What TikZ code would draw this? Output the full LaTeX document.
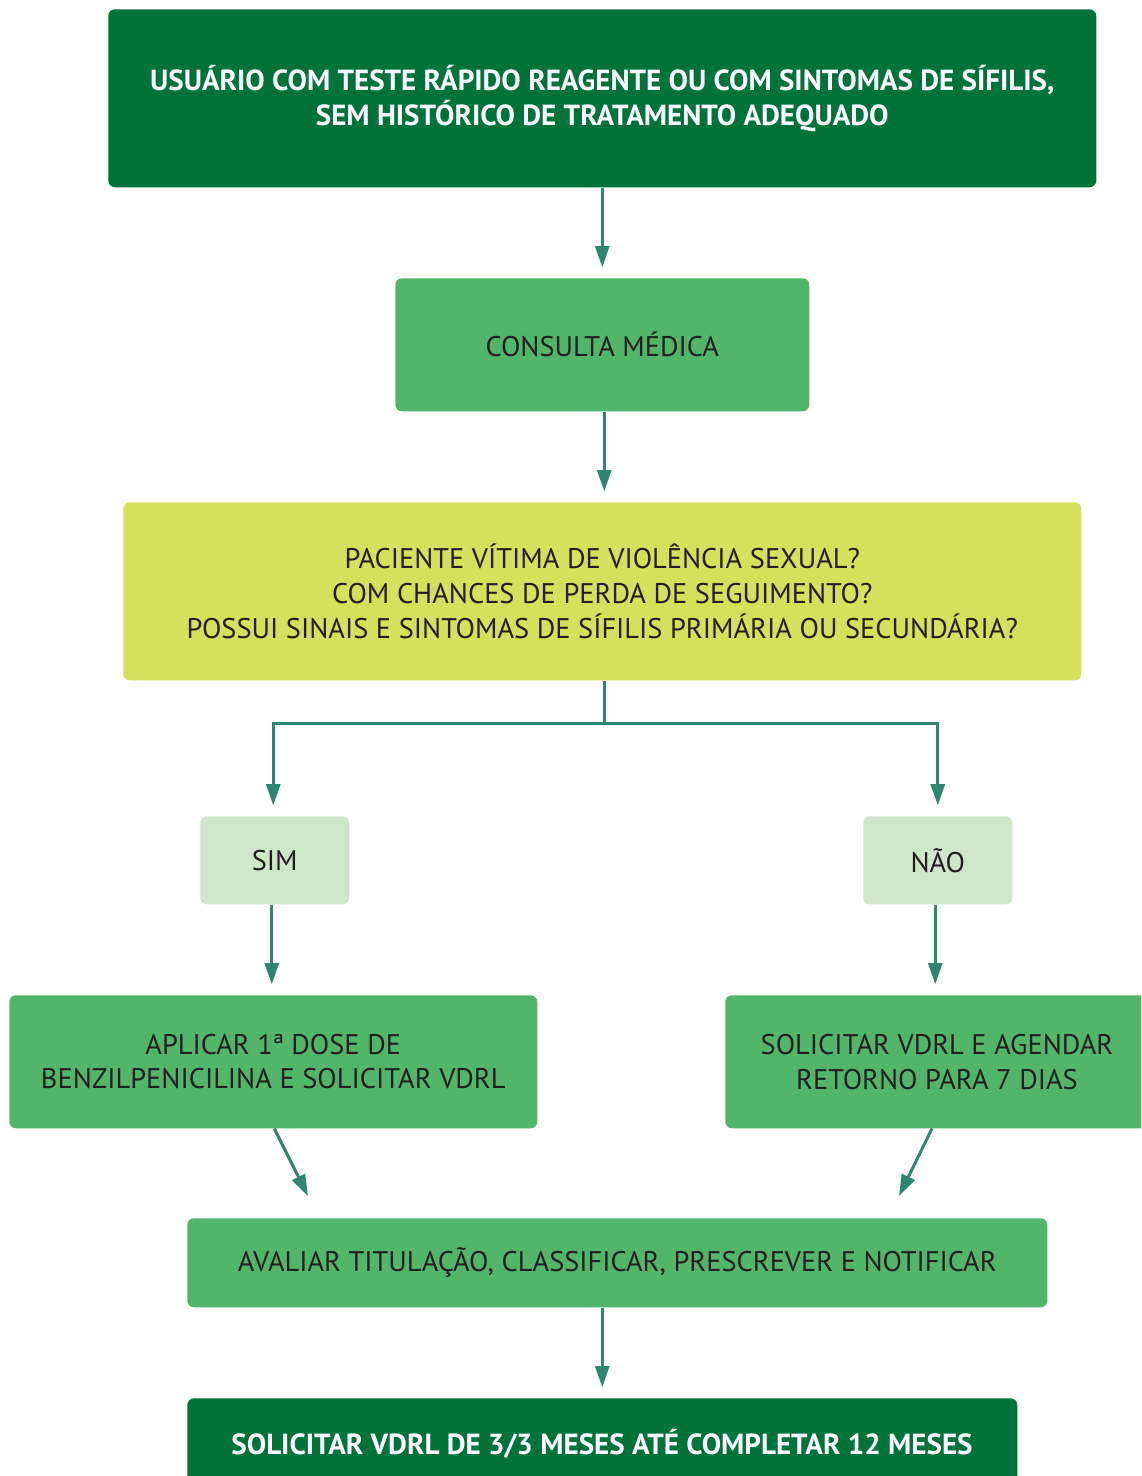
\documentclass[tikz,border=0pt]{standalone}
\usepackage{fontspec}
\setmainfont{PT Sans}
\usetikzlibrary{arrows.meta,calc}
\definecolor{darkgreen}{RGB}{0,115,56}
\definecolor{midgreen}{RGB}{82,182,106}
\definecolor{lightgreen}{RGB}{207,231,200}
\definecolor{lime}{RGB}{213,224,91}
\definecolor{arrowteal}{RGB}{46,133,112}
\definecolor{inktext}{RGB}{35,31,32}
\begin{document}
\begin{tikzpicture}[x=0.75pt,y=-0.75pt,
  box/.style={rounded corners=5pt,inner sep=0pt,align=center,anchor=north west},
  boldtxt/.style={text=white,font=\fontsize{21.8}{26.3}\selectfont\bfseries},
  plaintxt/.style={text=inktext,font=\fontsize{21.3}{25.8}\selectfont},
  darkbox/.style={box,fill=darkgreen,boldtxt},
  midbox/.style={box,fill=midgreen,plaintxt},
  limebox/.style={box,fill=lime,plaintxt,font=\fontsize{21.3}{26.3}\selectfont},
  lightbox/.style={box,fill=lightgreen,plaintxt},
  flow/.style={draw=arrowteal,line width=2.2pt,-{Triangle[width=10.5pt,length=16pt]},shorten >=8pt},
  link/.style={draw=arrowteal,line width=2.2pt}]
\clip (0,0) rectangle (1141,1476);
\fill[white] (0,0) rectangle (1141,1476);
% boxes
\node[darkbox,minimum width=988*0.75pt,minimum height=178*0.75pt] (start) at (108,9)
  {USUÁRIO COM TESTE RÁPIDO REAGENTE OU COM SINTOMAS DE SÍFILIS,\\SEM HISTÓRICO DE TRATAMENTO ADEQUADO};
\node[midbox,minimum width=414*0.75pt,minimum height=133*0.75pt] (consulta) at (395,278)
  {CONSULTA MÉDICA};
\node[limebox,minimum width=958*0.75pt,minimum height=178*0.75pt] (pergunta) at (123,502)
  {PACIENTE VÍTIMA DE VIOLÊNCIA SEXUAL?\\COM CHANCES DE PERDA DE SEGUIMENTO?\\POSSUI SINAIS E SINTOMAS DE SÍFILIS PRIMÁRIA OU SECUNDÁRIA?};
\node[lightbox,minimum width=149*0.75pt,minimum height=88*0.75pt] (sim) at (200,816) {SIM};
\node[lightbox,minimum width=149*0.75pt,minimum height=88*0.75pt] (nao) at (863,816) {NÃO};
\node[midbox,minimum width=528*0.75pt,minimum height=133*0.75pt] (aplicar) at (9,995)
  {APLICAR 1ª DOSE DE\\BENZILPENICILINA E SOLICITAR VDRL};
\node[midbox,minimum width=430*0.75pt,minimum height=133*0.75pt] (agendar) at (725,995) {};
\node[plaintxt,align=center] (agendartxt) at (937,1062)
  {SOLICITAR VDRL E AGENDAR\\RETORNO PARA 7 DIAS};
\node[midbox,minimum width=860*0.75pt,minimum height=89*0.75pt] (avaliar) at (187,1218)
  {AVALIAR TITULAÇÃO, CLASSIFICAR, PRESCREVER E NOTIFICAR};
\node[box,fill=darkgreen,minimum width=830*0.75pt,minimum height=100*0.75pt] (fim) at (187,1398) {};
\node[boldtxt] (fimtxt) at (602,1444)
  {SOLICITAR VDRL DE 3/3 MESES ATÉ COMPLETAR 12 MESES};
% connector end points
\coordinate (split) at ($(pergunta.south)+(2,43)$);
\coordinate (simin) at ($(sim.north)+(-1.5,0)$);
\coordinate (simout) at ($(sim.south)+(-3,0)$);
\coordinate (naoout) at ($(nao.south)+(-2.5,0)$);
\coordinate (aplout) at ($(aplicar.south)+(1,0)$);
\coordinate (agdout) at ($(agendar.south west)+(207,0)$);
\coordinate (avalL) at (308,1196);
\coordinate (avalR) at (899,1196);
% connectors
\draw[flow] (start.south) -- (consulta.north);
\draw[flow] ($(consulta.south)+(2,0)$) -- ($(pergunta.north)+(2,0)$);
\draw[link] ($(pergunta.south)+(2,0)$) -- (split);
\draw[flow] (split) -| (simin);
\draw[flow] (split) -| (nao.north);
\draw[flow] (simout) -- (simout |- aplicar.north);
\draw[flow] (naoout) -- (naoout |- agendar.north);
\draw[link,-{Triangle[width=10.5pt,length=16pt]}] (aplout) -- (avalL);
\draw[link,-{Triangle[width=10.5pt,length=16pt]}] (agdout) -- (avalR);
\draw[flow] (avaliar.south -| fim.north) -- (fim.north);
\end{tikzpicture}
\end{document}
